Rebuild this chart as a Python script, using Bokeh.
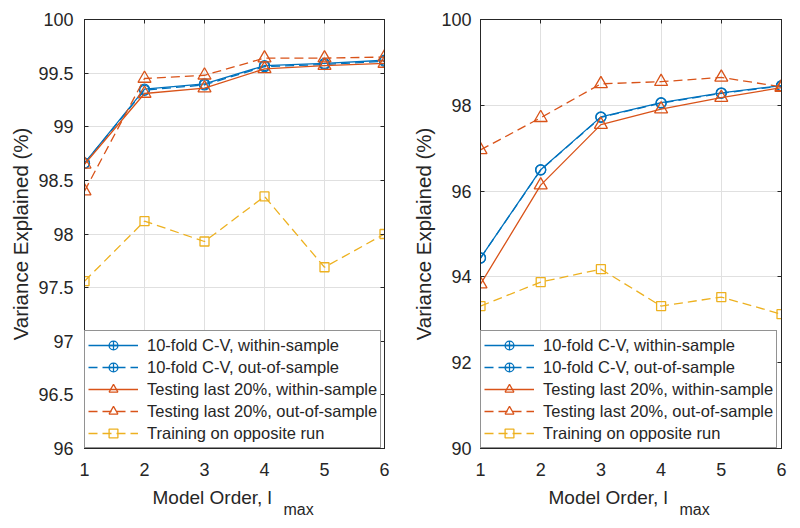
import numpy as np
from bokeh.plotting import figure
from bokeh.layouts import row
from bokeh.models import (FixedTicker, LinearAxis, Legend, LegendItem, Title, Range1d)
from bokeh.embed import file_html
from bokeh.resources import INLINE

# ---------------- data ----------------
orders = [1, 2, 3, 4, 5, 6]

left_cv_within = [98.66, 99.35, 99.40, 99.57, 99.59, 99.62]
left_cv_out = [98.66, 99.34, 99.39, 99.56, 99.58, 99.61]
left_test_within = [98.65, 99.31, 99.36, 99.54, 99.57, 99.59]
left_test_out = [98.40, 99.45, 99.48, 99.64, 99.64, 99.65]
left_train_opp = [97.56, 98.12, 97.93, 98.35, 97.69, 98.00]

right_cv_within = [94.44, 96.50, 97.73, 98.06, 98.29, 98.46]
right_cv_out = [94.44, 96.49, 97.72, 98.05, 98.28, 98.45]
right_test_within = [93.83, 96.14, 97.55, 97.91, 98.18, 98.41]
right_test_out = [96.96, 97.71, 98.50, 98.55, 98.65, 98.43]
right_train_opp = [93.32, 93.88, 94.18, 93.32, 93.53, 93.13]

left_yticks = [96, 96.5, 97, 97.5, 98, 98.5, 99, 99.5, 100]
left_ylabels = ["96", "96.5", "97", "97.5", "98", "98.5", "99", "99.5", "100"]
right_yticks = [90, 92, 94, 96, 98, 100]
right_ylabels = ["90", "92", "94", "96", "98", "100"]
xticks = [1, 2, 3, 4, 5, 6]

legend_labels = ["10-fold C-V, within-sample", "10-fold C-V, out-of-sample",
                 "Testing last 20%, within-sample", "Testing last 20%, out-of-sample",
                 "Training on opposite run"]
y_title = "Variance Explained (%)"
x_title_main = "Model Order, l"
x_title_sub = "max"

BLUE = "#0072BD"
ORANGE = "#D95319"
YELLOW = "#EDB120"
FONT = "Liberation Sans"
TXT = "#262626"
DASH = "9 5"
H = 528
BT, BB = 19, 80


def make_panel(width, bl, br, yr, yticks, ylabels, series, ylab_standoff):
    p = figure(width=width, height=H, output_backend="svg", toolbar_location=None,
               x_range=Range1d(1, 6), y_range=Range1d(*yr),
               min_border_left=bl, min_border_right=br, min_border_top=BT, min_border_bottom=BB)
    p.outline_line_color = TXT
    p.background_fill_color = "white"
    p.border_fill_color = "white"

    xt = FixedTicker(ticks=xticks)
    yt = FixedTicker(ticks=yticks)
    p.xaxis.ticker = xt
    p.yaxis.ticker = yt
    p.xgrid.ticker = xt
    p.ygrid.ticker = yt
    p.grid.grid_line_color = "#e0e0e0"
    p.yaxis.major_label_overrides = {t: l for t, l in zip(yticks, ylabels)}
    for ax in [p.xaxis[0], p.yaxis[0]]:
        ax.major_tick_in = 4
        ax.major_tick_out = 0
        ax.minor_tick_line_color = None
        ax.axis_line_color = TXT
        ax.major_tick_line_color = TXT
        ax.major_label_text_font = FONT
        ax.major_label_text_font_size = "18px"
        ax.major_label_text_color = TXT
    p.xaxis.major_label_standoff = 14
    p.yaxis.major_label_standoff = ylab_standoff
    p.yaxis.axis_label = y_title
    p.yaxis.axis_label_text_font = FONT
    p.yaxis.axis_label_text_font_size = "20.5px"
    p.yaxis.axis_label_text_font_style = "normal"
    p.yaxis.axis_label_text_color = TXT
    p.yaxis.axis_label_standoff = 3

    # box axes (top / right) with inward ticks, no labels drawn
    for loc, tk in (("above", xt), ("right", yt)):
        ax = LinearAxis(ticker=tk, major_label_text_font_size="1px", major_label_text_color=None,
                        major_tick_in=4, major_tick_out=0, minor_tick_line_color=None,
                        axis_line_color=TXT, major_tick_line_color=TXT, major_label_standoff=0)
        p.add_layout(ax, loc)

    cv_in, cv_out, t_in, t_out, train = series
    items = []
    nan_y = [float("nan")]

    # CV within
    l1 = p.line(orders, cv_in, line_color=BLUE, line_width=1.3)
    m1 = p.scatter(orders, cv_in, marker="circle", size=10, fill_color=None, line_color=BLUE, line_width=1.3)
    e1 = p.scatter(x=[1], y=nan_y, marker="cross", size=17, line_color=BLUE, line_width=1.3)
    items.append(LegendItem(label=legend_labels[0], renderers=[l1, m1, e1]))
    # CV out
    l2 = p.line(orders, cv_out, line_color=BLUE, line_width=1.3, line_dash=DASH)
    m2 = p.scatter(orders, cv_out, marker="circle", size=10, fill_color=None, line_color=BLUE, line_width=1.3)
    e2 = p.scatter(x=[1], y=nan_y, marker="cross", size=17, line_color=BLUE, line_width=1.3)
    items.append(LegendItem(label=legend_labels[1], renderers=[l2, m2, e2]))
    # Test within
    l3 = p.line(orders, t_in, line_color=ORANGE, line_width=1.3)
    m3 = p.scatter(orders, t_in, marker="triangle", size=13, fill_color=None, line_color=ORANGE, line_width=1.3)
    items.append(LegendItem(label=legend_labels[2], renderers=[l3, m3]))
    # Test out
    l4 = p.line(orders, t_out, line_color=ORANGE, line_width=1.3, line_dash=DASH)
    m4 = p.scatter(orders, t_out, marker="triangle", size=13, fill_color=None, line_color=ORANGE, line_width=1.3)
    items.append(LegendItem(label=legend_labels[3], renderers=[l4, m4]))
    # Training opposite
    l5 = p.line(orders, train, line_color=YELLOW, line_width=1.3, line_dash=DASH)
    m5 = p.scatter(orders, train, marker="square", size=9, fill_color=None, line_color=YELLOW, line_width=1.3)
    items.append(LegendItem(label=legend_labels[4], renderers=[l5, m5]))

    leg = Legend(items=items, location="bottom_left", margin=0, padding=3, spacing=0,
                 glyph_width=50, glyph_height=22, label_height=22, label_standoff=9,
                 border_line_color=TXT, background_fill_color="white", background_fill_alpha=1,
                 label_text_font=FONT, label_text_font_size="16.5px", label_text_color=TXT)
    p.add_layout(leg, "center")

    # x-axis title with a subscript, as two titles below the axis
    t1 = Title(text=x_title_main, align="left", offset=68, standoff=13,
               text_font=FONT, text_font_size="19px", text_font_style="normal", text_color=TXT)
    t2 = Title(text=x_title_sub, align="left", offset=199, standoff=-28, vertical_align="top",
               text_font=FONT, text_font_size="16px", text_font_style="normal", text_color=TXT)
    p.add_layout(t1, "below")
    p.add_layout(t2, "below")
    return p


p1 = make_panel(408, 84, 24, (96, 100), left_yticks, left_ylabels,
                [left_cv_within, left_cv_out, left_test_within, left_test_out, left_train_opp], 11)
p2 = make_panel(392, 72, 19, (90, 100), right_yticks, right_ylabels,
                [right_cv_within, right_cv_out, right_test_within, right_test_out, right_train_opp], 9)

layout = row(p1, p2)
open("out.html", "w").write(file_html(layout, INLINE))
